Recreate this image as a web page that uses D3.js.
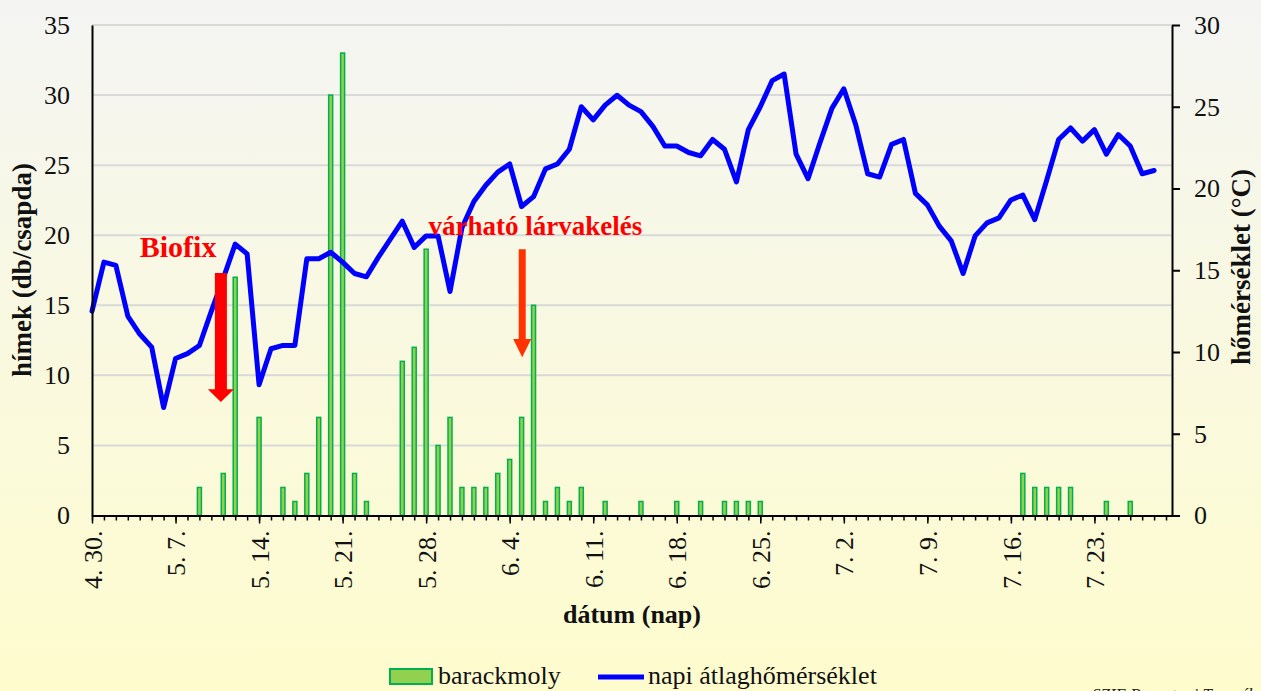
<!DOCTYPE html>
<html><head><meta charset="utf-8">
<script src="https://cdn.jsdelivr.net/npm/d3@7"></script>
<style>body{margin:0;background:#fff;} svg{display:block;}</style>
</head><body>
<svg id="chart" width="1261" height="691"></svg>
<script>
// ---- data ----
// day index 0 = 4.30., one value per day
const tickLabels = ["4. 30.","5. 7.","5. 14.","5. 21.","5. 28.","6. 4.","6. 11.","6. 18.","6. 25.","7. 2.","7. 9.","7. 16.","7. 23."];
const barackmoly = [
  0,0,0,0,0,0,0,0,0,2,
  0,3,17,0,7,0,2,1,3,7,
  30,33,3,1,0,0,11,12,19,5,
  7,2,2,2,3,4,7,15,1,2,
  1,2,0,1,0,0,1,0,0,1,
  0,1,0,1,1,1,1,0,0,0,
  0,0,0,0,0,0,0,0,0,0,
  0,0,0,0,0,0,0,0,3,2,
  2,2,2,0,0,1,0,1,0,0,
  0
];
const homerseklet = [
  12.5,15.5,15.3,12.2,11.1,10.3,6.6,9.6,9.9,10.4,
  12.5,14.5,16.6,16.0,8.0,10.2,10.4,10.4,15.7,15.7,
  16.1,15.5,14.8,14.6,15.8,16.9,18.0,16.4,17.1,17.1,
  13.7,17.6,19.2,20.2,21.0,21.5,18.9,19.5,21.2,21.5,
  22.4,25.0,24.2,25.1,25.7,25.1,24.7,23.8,22.6,22.6,
  22.2,22.0,23.0,22.4,20.4,23.6,25.0,26.6,27.0,22.1,
  20.6,22.8,24.9,26.1,23.9,20.9,20.7,22.7,23.0,19.7,
  19.0,17.7,16.8,14.8,17.1,17.9,18.2,19.3,19.6,18.1,
  20.5,23.0,23.7,22.9,23.6,22.1,23.3,22.6,20.9,21.1
];
const leftTicks = [0,5,10,15,20,25,30,35];
const rightTicks = [0,5,10,15,20,25,30];
const seriesNames = ["barackmoly","napi átlaghőmérséklet"];
const annotations = [
  {text:"Biofix", textDay:4.0, textVal:18.45, day:10.8, top:17.3, headBase:9.0, tip:8.1, shaftW:12, headW:26, color:"#ff0000", fontSize:30},
  {text:"várható lárvakelés", textDay:28.2, textVal:20.0, day:36.05, top:19.0, headBase:12.6, tip:11.3, shaftW:7, headW:18, color:"#ff3300", fontSize:27}
];

// ---- drawing ----
const W=1261,H=691;
const FONT='"Liberation Serif","Times New Roman",serif';
const svg=d3.select("#chart");
const defs=svg.append("defs");
const grad=defs.append("linearGradient").attr("id","bg").attr("x1",0).attr("y1",0).attr("x2",0).attr("y2",1);
grad.append("stop").attr("offset","0%").attr("stop-color","#f4f5f3");
grad.append("stop").attr("offset","100%").attr("stop-color","#fefccd");
svg.append("rect").attr("width",W).attr("height",H).attr("fill","url(#bg)");

const x=d3.scaleLinear().domain([0,90.5]).range([92,1172]);
const yL=d3.scaleLinear().domain([0,35]).range([515.5,25]);
const yR=d3.scaleLinear().domain([0,30]).range([515.5,25]);

// gridlines
svg.append("g").selectAll("line").data(leftTicks.filter(d=>d>0)).join("line")
  .attr("x1",x.range()[0]).attr("x2",x.range()[1])
  .attr("y1",d=>yL(d)).attr("y2",d=>yL(d))
  .attr("stroke","#d9d9d9").attr("stroke-width",2);

// bars
svg.append("g").selectAll("rect")
  .data(barackmoly.map((v,i)=>({i,v})).filter(d=>d.v>0)).join("rect")
  .attr("x",d=>x(d.i)-2).attr("width",4)
  .attr("y",d=>yL(d.v)).attr("height",d=>yL(0)-yL(d.v))
  .attr("fill","#92d050").attr("stroke","#00b050").attr("stroke-width",1.5);

// line
svg.append("path").datum(homerseklet)
  .attr("d",d3.line().x((d,i)=>x(i)).y(d=>yR(d)))
  .attr("fill","none").attr("stroke","#0000ff").attr("stroke-width",5)
  .attr("stroke-linejoin","round").attr("stroke-linecap","round");

// left axis
const gL=svg.append("g").attr("transform",`translate(${x.range()[0]},0)`)
  .call(d3.axisLeft(yL).tickValues(leftTicks).tickSize(0).tickPadding(22));
gL.select(".domain").attr("stroke","#000").attr("stroke-width",2);
gL.selectAll("text").attr("font-family",FONT).attr("font-size",26).attr("fill","#111");

// right axis
const gR=svg.append("g").attr("transform",`translate(${x.range()[1]},0)`)
  .call(d3.axisRight(yR).tickValues(rightTicks).tickSize(8).tickSizeOuter(0).tickPadding(14));
gR.select(".domain").attr("stroke","#000").attr("stroke-width",2);
gR.selectAll("line").attr("stroke","#000").attr("stroke-width",2);
gR.selectAll("text").attr("font-family",FONT).attr("font-size",26).attr("fill","#111");

// bottom axis: minor ticks
const gB=svg.append("g").attr("transform",`translate(0,${yL(0)})`)
  .call(d3.axisBottom(x).tickValues(d3.range(0,91)).tickSize(5).tickSizeOuter(0).tickFormat(""));
gB.select(".domain").attr("stroke","#000").attr("stroke-width",2);
gB.selectAll(".tick line").attr("stroke","#000").attr("stroke-width",1.5);
// major ticks with labels
const gB2=svg.append("g").attr("transform",`translate(0,${yL(0)})`)
  .call(d3.axisBottom(x).tickValues(tickLabels.map((d,i)=>i*7)).tickSize(8).tickSizeOuter(0)
    .tickFormat((d,i)=>tickLabels[i]));
gB2.select(".domain").remove();
gB2.selectAll(".tick line").attr("stroke","#000").attr("stroke-width",1.5);
gB2.selectAll(".tick text")
  .attr("font-family",FONT).attr("font-size",26).attr("fill","#111")
  .attr("text-anchor","end").attr("dy","0.35em")
  .attr("transform","translate(0,15) rotate(-90)").attr("x",0).attr("y",0);

// axis titles
svg.append("text").attr("transform","translate(31,270) rotate(-90)")
  .attr("text-anchor","middle").attr("font-family",FONT).attr("font-weight","bold")
  .attr("font-size",27).attr("fill","#111").text("hímek (db/csapda)");
svg.append("text").attr("transform","translate(1250,267) rotate(-90)")
  .attr("text-anchor","middle").attr("font-family",FONT).attr("font-weight","bold")
  .attr("font-size",27).attr("fill","#111").text("hőmérséklet (°C)");
svg.append("text").attr("x",632).attr("y",623)
  .attr("text-anchor","middle").attr("font-family",FONT).attr("font-weight","bold")
  .attr("font-size",26).attr("fill","#111").text("dátum (nap)");

// annotations
annotations.forEach(a=>{
  const cx=x(a.day), t=yL(a.top), hb=yL(a.headBase), tp=yL(a.tip);
  const s=a.shaftW/2, h=a.headW/2;
  svg.append("polygon")
    .attr("points",[[cx-s,t],[cx+s,t],[cx+s,hb],[cx+h,hb],[cx,tp],[cx-h,hb],[cx-s,hb]].map(p=>p.join(",")).join(" "))
    .attr("fill",a.color);
  svg.append("text").attr("x",x(a.textDay)).attr("y",yL(a.textVal))
    .attr("font-family",FONT).attr("font-weight","bold").attr("font-size",a.fontSize)
    .attr("fill","#ff0000").text(a.text);
});

// legend
const lg=svg.append("g");
lg.append("rect").attr("x",390).attr("y",669).attr("width",42).attr("height",15)
  .attr("fill","#92d050").attr("stroke","#00b050").attr("stroke-width",2);
lg.append("text").attr("x",438).attr("y",684).attr("font-family",FONT).attr("font-size",26)
  .attr("fill","#111").text(seriesNames[0]);
lg.append("line").attr("x1",598).attr("x2",644).attr("y1",677).attr("y2",677)
  .attr("stroke","#0000ff").attr("stroke-width",5);
lg.append("text").attr("x",648).attr("y",684).attr("font-family",FONT).attr("font-size",26)
  .attr("fill","#111").text(seriesNames[1]);

// source note
svg.append("text").attr("x",1092).attr("y",700).attr("font-family",FONT).attr("font-style","italic")
  .attr("font-size",17).attr("fill","#222").text("SZIE Rovartani Tanszék");
</script>
</body></html>
